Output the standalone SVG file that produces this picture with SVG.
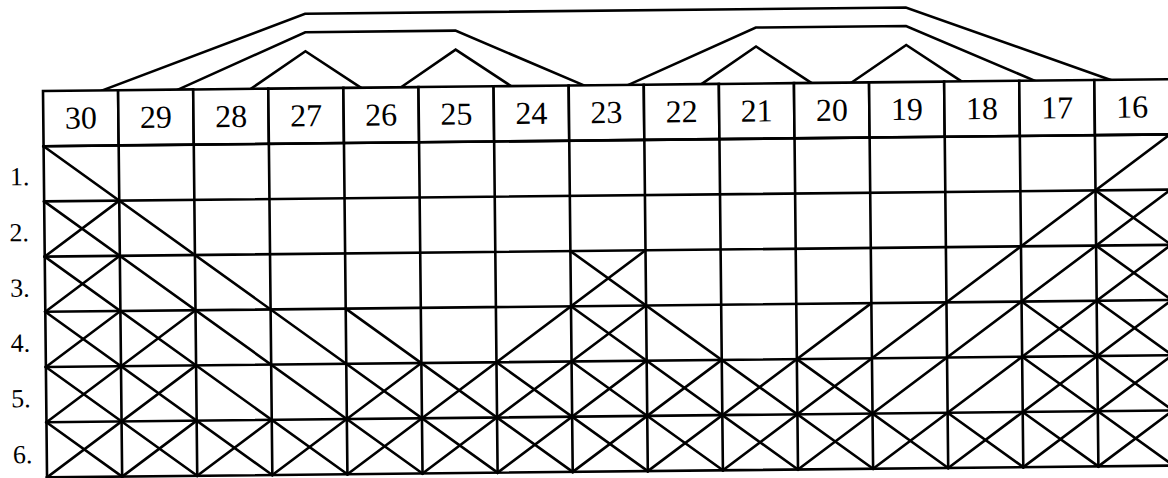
<svg xmlns="http://www.w3.org/2000/svg" width="1168" height="478" viewBox="0 0 1168 478">
<style>
.ln{fill:none;stroke:#000;stroke-width:2.6;stroke-linejoin:miter;stroke-linecap:square}
.cell{fill:#fff;stroke:#000;stroke-width:2.6}
.num{font-family:"Liberation Serif","Times New Roman",serif;font-size:32px;fill:#000;text-anchor:middle}
.lab{font-family:"Liberation Serif","Times New Roman",serif;font-size:26px;fill:#000}
</style>
<rect x="0" y="0" width="1168" height="478" fill="#fff"/>
<g id="diagram" transform="rotate(-0.6 43 91)">
  <g id="connectors" class="ln">
    <path d="M102.3 91L305.85 16.5L906.65 16.5L1110.3 91"/>
    <path d="M178 91L305.85 35L456.05 35L584 91"/>
    <path d="M628.5 91L756.45 35L906.65 35L1034.5 91"/>
    <path d="M250.85 91L305.85 54L360.85 91"/>
    <path d="M401.05 91L456.05 54L511.05 91"/>
    <path d="M701.45 91L756.45 54L811.45 91"/>
    <path d="M851.65 91L906.65 54L961.65 91"/>
  </g>
  <g id="header">
    <g id="col-30"><rect class="cell" x="43" y="91" width="75.1" height="55.2"/><text class="num" x="80.55" y="129">30</text></g>
    <g id="col-29"><rect class="cell" x="118.1" y="91" width="75.1" height="55.2"/><text class="num" x="155.65" y="129">29</text></g>
    <g id="col-28"><rect class="cell" x="193.2" y="91" width="75.1" height="55.2"/><text class="num" x="230.75" y="129">28</text></g>
    <g id="col-27"><rect class="cell" x="268.3" y="91" width="75.1" height="55.2"/><text class="num" x="305.85" y="129">27</text></g>
    <g id="col-26"><rect class="cell" x="343.4" y="91" width="75.1" height="55.2"/><text class="num" x="380.95" y="129">26</text></g>
    <g id="col-25"><rect class="cell" x="418.5" y="91" width="75.1" height="55.2"/><text class="num" x="456.05" y="129">25</text></g>
    <g id="col-24"><rect class="cell" x="493.6" y="91" width="75.1" height="55.2"/><text class="num" x="531.15" y="129">24</text></g>
    <g id="col-23"><rect class="cell" x="568.7" y="91" width="75.1" height="55.2"/><text class="num" x="606.25" y="129">23</text></g>
    <g id="col-22"><rect class="cell" x="643.8" y="91" width="75.1" height="55.2"/><text class="num" x="681.35" y="129">22</text></g>
    <g id="col-21"><rect class="cell" x="718.9" y="91" width="75.1" height="55.2"/><text class="num" x="756.45" y="129">21</text></g>
    <g id="col-20"><rect class="cell" x="794" y="91" width="75.1" height="55.2"/><text class="num" x="831.55" y="129">20</text></g>
    <g id="col-19"><rect class="cell" x="869.1" y="91" width="75.1" height="55.2"/><text class="num" x="906.65" y="129">19</text></g>
    <g id="col-18"><rect class="cell" x="944.2" y="91" width="75.1" height="55.2"/><text class="num" x="981.75" y="129">18</text></g>
    <g id="col-17"><rect class="cell" x="1019.3" y="91" width="75.1" height="55.2"/><text class="num" x="1056.85" y="129">17</text></g>
    <g id="col-16"><rect class="cell" x="1094.4" y="91" width="75.1" height="55.2"/><text class="num" x="1131.95" y="129">16</text></g>
  </g>
  <g id="row-labels">
    <g id="row-1"><text class="lab" x="9" y="185">1.</text></g>
    <g id="row-2"><text class="lab" x="8" y="241">2.</text></g>
    <g id="row-3"><text class="lab" x="8" y="296.5">3.</text></g>
    <g id="row-4"><text class="lab" x="8" y="351.5">4.</text></g>
    <g id="row-5"><text class="lab" x="8" y="407">5.</text></g>
    <g id="row-6"><text class="lab" x="9" y="463">6.</text></g>
  </g>
  <g id="grid" class="ln">
    <path d="M43 146.2H1169.5M43 201.4H1169.5M43 256.6H1169.5M43 311.8H1169.5M43 367H1169.5M43 422.2H1169.5M43 477.4H1169.5"/>
    <path d="M43 146.2V477.4M118.1 146.2V477.4M193.2 146.2V477.4M268.3 146.2V477.4M343.4 146.2V477.4M418.5 146.2V477.4M493.6 146.2V477.4M568.7 146.2V477.4M643.8 146.2V477.4M718.9 146.2V477.4M794 146.2V477.4M869.1 146.2V477.4M944.2 146.2V477.4M1019.3 146.2V477.4M1094.4 146.2V477.4M1169.5 146.2V477.4"/>
  </g>
  <g id="diagonals" class="ln">
    <path d="M43 146.2L493.6 477.4M43 201.4L418.5 477.4M43 256.6L343.4 477.4M43 311.8L268.3 477.4M43 367L193.2 477.4M43 422.2L118.1 477.4M343.4 311.8L568.7 477.4M493.6 367L643.8 477.4M568.7 367L718.9 477.4M568.7 311.8L794 477.4M568.7 256.6L869.1 477.4M794 367L944.2 477.4M944.2 422.2L1019.3 477.4M1019.3 422.2L1094.4 477.4M1019.3 367L1169.5 477.4M1019.3 311.8L1169.5 422.2M1094.4 311.8L1169.5 367M1094.4 256.6L1169.5 311.8M1094.4 201.4L1169.5 256.6"/>
    <path d="M1169.5 146.2L718.9 477.4M1169.5 201.4L794 477.4M1169.5 256.6L869.1 477.4M1169.5 311.8L944.2 477.4M1169.5 367L1019.3 477.4M1169.5 422.2L1094.4 477.4M869.1 311.8L643.8 477.4M718.9 367L568.7 477.4M643.8 367L493.6 477.4M643.8 311.8L418.5 477.4M643.8 256.6L343.4 477.4M418.5 367L268.3 477.4M268.3 422.2L193.2 477.4M193.2 422.2L118.1 477.4M193.2 367L43 477.4M193.2 311.8L43 422.2M118.1 311.8L43 367M118.1 256.6L43 311.8M118.1 201.4L43 256.6"/>
  </g>
</g>
</svg>
